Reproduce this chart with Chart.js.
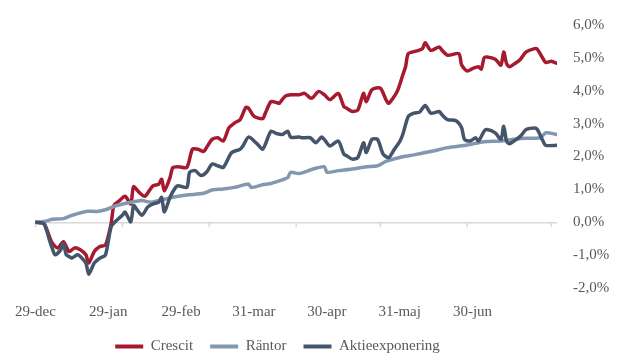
<!DOCTYPE html>
<html>
<head>
<meta charset="utf-8">
<script src="https://cdn.jsdelivr.net/npm/chart.js@4"></script>
<style>
  html, body { margin: 0; padding: 0; background: #fff; }
  #wrap { width: 617px; height: 356px; }
</style>
</head>
<body>
<div id="wrap"><canvas id="perfChart"></canvas></div>
<script>
// x values are days since 29-dec
const monthLabels = ["29-dec", "29-jan", "29-feb", "31-mar", "30-apr", "31-maj", "30-jun"];
const monthDays = [0, 31, 62, 93, 123, 154, 184];

const crescitDays = [0, 3, 5, 6, 8, 10, 12, 14, 16, 18, 19, 21, 23, 25, 27, 28, 30, 32, 34, 35, 37, 39, 41, 42, 44, 45, 46, 48, 49, 51, 54, 56, 58, 60, 61, 63, 65, 67, 69, 71, 73, 75, 76, 78, 81, 82, 84, 86, 87, 89, 91, 94, 96, 98, 99, 101, 103, 105, 108, 110, 111, 113, 115, 117, 118, 120, 123, 125, 126, 129, 131, 132, 133, 136, 138, 139, 141, 144, 145, 147, 151, 152, 154, 156, 158, 159, 160, 161, 164, 166, 167, 168, 169, 171, 173, 175, 178, 179, 181, 182, 184, 186];
const crescitValues = [0, -0.04, -0.44, -0.63, -0.78, -0.59, -0.89, -0.78, -0.84, -0.99, -1.24, -0.89, -0.74, -0.69, -0.04, 0.51, 0.66, 0.79, 0.56, 1.08, 0.91, 0.79, 1.01, 1.11, 1.16, 1.31, 0.96, 1.36, 1.66, 1.69, 1.67, 2.22, 2.22, 2.15, 2.27, 2.52, 2.57, 2.47, 2.87, 3.02, 3.12, 3.49, 3.47, 3.22, 3.15, 3.32, 3.67, 3.64, 3.62, 3.83, 3.88, 3.88, 3.92, 3.78, 3.80, 3.98, 3.88, 3.73, 3.92, 3.52, 3.47, 3.37, 3.42, 3.92, 3.67, 4.03, 4.08, 3.73, 3.62, 3.98, 4.48, 4.73, 5.13, 5.21, 5.28, 5.46, 5.23, 5.33, 5.23, 5.08, 5.13, 4.78, 4.60, 4.68, 4.73, 4.66, 5.00, 5.03, 4.96, 4.78, 5.18, 4.83, 4.73, 4.83, 4.96, 5.18, 5.28, 5.26, 4.98, 4.86, 4.90, 4.83];

const rantorDays = [0, 4, 6, 10, 13, 18, 22, 25, 29, 34, 38, 41, 44, 49, 54, 60, 63, 67, 71, 76, 77, 81, 84, 88, 90, 91, 94, 98, 99, 103, 104, 108, 113, 118, 122, 125, 131, 135, 141, 147, 154, 160, 166, 173, 180, 182, 186];
const rantorValues = [0, 0.04, 0.09, 0.11, 0.21, 0.33, 0.33, 0.38, 0.51, 0.61, 0.66, 0.61, 0.66, 0.76, 0.83, 0.88, 0.98, 1.01, 1.06, 1.16, 1.06, 1.14, 1.18, 1.29, 1.36, 1.52, 1.48, 1.59, 1.62, 1.69, 1.52, 1.57, 1.62, 1.69, 1.72, 1.85, 1.99, 2.05, 2.15, 2.27, 2.35, 2.45, 2.47, 2.55, 2.57, 2.72, 2.67];

const aktieDays = [0, 3, 5, 6, 7, 9, 10, 11, 12, 13, 15, 16, 18, 19, 21, 23, 25, 27, 29, 31, 32, 34, 35, 36, 38, 40, 42, 44, 45, 46, 48, 50, 51, 54, 55, 57, 59, 61, 63, 65, 67, 70, 73, 74, 76, 79, 81, 82, 84, 86, 88, 90, 91, 94, 95, 98, 100, 102, 103, 105, 108, 110, 111, 113, 115, 117, 118, 120, 122, 124, 126, 128, 130, 131, 133, 135, 137, 139, 141, 144, 145, 147, 150, 152, 153, 155, 157, 158, 160, 161, 164, 166, 167, 168, 169, 171, 173, 175, 178, 179, 181, 182, 186];
const aktieValues = [0, -0.04, -0.54, -0.79, -0.99, -0.84, -0.64, -0.99, -1.04, -1.09, -0.99, -1.04, -1.24, -1.58, -1.24, -1.09, -0.99, -0.14, 0.06, 0.21, 0.31, 0.01, 0.51, 0.41, 0.21, 0.46, 0.56, 0.61, 0.76, 0.31, 0.76, 1.06, 1.11, 1.06, 1.52, 1.57, 1.42, 1.52, 1.77, 1.72, 1.67, 2.12, 2.22, 2.32, 2.59, 2.39, 2.22, 2.37, 2.77, 2.70, 2.67, 2.77, 2.59, 2.59, 2.57, 2.57, 2.42, 2.59, 2.52, 2.32, 2.47, 2.07, 2.02, 1.92, 1.97, 2.42, 2.12, 2.52, 2.52, 2.07, 1.97, 2.22, 2.47, 2.67, 3.22, 3.32, 3.35, 3.55, 3.32, 3.37, 3.27, 3.12, 3.09, 2.87, 2.52, 2.47, 2.57, 2.47, 2.77, 2.82, 2.72, 2.52, 2.92, 2.47, 2.39, 2.49, 2.62, 2.82, 2.87, 2.82, 2.47, 2.34, 2.34];

const textColor = "#595959";
const font = { family: "'Liberation Serif', 'Times New Roman', serif", size: 15 };

function pts(days, vals) {
  return days.map((d, i) => ({ x: d, y: vals[i] }));
}

// tick marks hanging under the zero line
const zeroTicks = {
  id: "zeroTicks",
  beforeDatasetsDraw(chart) {
    const { ctx, scales: { x, y } } = chart;
    const y0 = y.getPixelForValue(0);
    ctx.save();
    ctx.strokeStyle = "#d9d9d9";
    ctx.lineWidth = 1.5;
    ctx.beginPath();
    monthDays.forEach(d => {
      const px = x.getPixelForValue(d);
      ctx.moveTo(px, y0);
      ctx.lineTo(px, y0 + 5);
    });
    ctx.stroke();
    ctx.restore();
  }
};

// nudge the legend like in the original
const legendShift = {
  id: "legendShift",
  afterLayout(chart) {
    const l = chart.legend;
    l.left -= 47; l.right -= 47;
    l.top -= 14; l.bottom -= 14;
  }
};

new Chart("perfChart", {
  type: "line",
  data: {
    datasets: [
      { label: "Crescit", data: pts(crescitDays, crescitValues), borderColor: "#a6192e", backgroundColor: "#a6192e", order: 3 },
      { label: "Räntor", data: pts(rantorDays, rantorValues), borderColor: "#8497b0", backgroundColor: "#8497b0", order: 2 },
      { label: "Aktieexponering", data: pts(aktieDays, aktieValues), borderColor: "#44546a", backgroundColor: "#44546a", order: 1 }
    ]
  },
  options: {
    responsive: true,
    maintainAspectRatio: false,
    animation: false,
    layout: { padding: { left: 32, top: 22, right: 0, bottom: -22 } },
    elements: {
      line: { borderWidth: 3.5, tension: 0.25, borderJoinStyle: "round", borderCapStyle: "round" },
      point: { radius: 0 }
    },
    scales: {
      x: { type: "linear", display: false, min: 0, max: 186 },
      months: {
        type: "linear",
        position: "bottom",
        min: 0,
        max: 7.16,
        grid: { display: false, drawTicks: false },
        border: { display: false },
        afterBuildTicks: s => { s.ticks = monthLabels.map((_, i) => ({ value: i })); },
        ticks: {
          autoSkip: false,
          maxRotation: 0,
          padding: 15,
          color: textColor,
          font: font,
          callback: v => monthLabels[v]
        }
      },
      y: {
        position: "right",
        min: -2,
        max: 6,
        afterFit: s => { s.width = 60; },
        grid: {
          drawTicks: false,
          lineWidth: 1.5,
          color: c => (c.tick && c.tick.value === 0 ? "#d9d9d9" : "rgba(0,0,0,0)")
        },
        border: { display: false },
        ticks: {
          stepSize: 1,
          padding: 16,
          color: textColor,
          font: font,
          callback: v => v.toFixed(1).replace(".", ",") + "%"
        }
      }
    },
    plugins: {
      tooltip: { enabled: false },
      legend: {
        position: "bottom",
        labels: {
          boxWidth: 28,
          boxHeight: 4,
          padding: 17,
          color: textColor,
          font: font,
          sort: (a, b) => a.datasetIndex - b.datasetIndex,
          generateLabels: chart => Chart.defaults.plugins.legend.labels.generateLabels(chart).map(it => ({ ...it, lineWidth: 0 }))
        }
      }
    }
  },
  plugins: [zeroTicks, legendShift]
});
</script>
</body>
</html>
